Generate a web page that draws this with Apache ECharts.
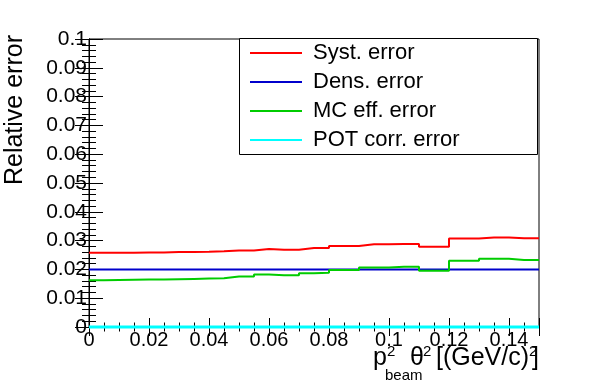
<!DOCTYPE html>
<html>
<head>
<meta charset="utf-8">
<script src="https://cdn.jsdelivr.net/npm/echarts@6/dist/echarts.min.js"></script>
<style>
  html, body { margin: 0; padding: 0; background: #fff; }
  #chart { width: 598px; height: 386px; }
</style>
</head>
<body>
<div id="chart"></div>
<script>
// lower bin edges (bin width 0.005) and upper end of last bin
const binLow = [0, 0.005, 0.01, 0.015, 0.02, 0.025, 0.03, 0.035, 0.04, 0.045,
                0.05, 0.055, 0.06, 0.065, 0.07, 0.075, 0.08, 0.085, 0.09, 0.095,
                0.1, 0.105, 0.11, 0.115, 0.12, 0.125, 0.13, 0.135, 0.14, 0.145];
const xMax = 0.15;

const systErr = [0.0258, 0.0258, 0.0258, 0.0259, 0.0259, 0.0260, 0.0260, 0.0261, 0.0263, 0.0266,
                 0.0266, 0.0271, 0.0268, 0.0268, 0.0274, 0.0274, 0.0281, 0.0281, 0.0287, 0.0287,
                 0.0288, 0.0288, 0.0279, 0.0279, 0.0307, 0.0307, 0.0311, 0.0311, 0.0308, 0.0308];
const densErr = [0.02, 0.02, 0.02, 0.02, 0.02, 0.02, 0.02, 0.02, 0.02, 0.02,
                 0.02, 0.02, 0.02, 0.02, 0.02, 0.02, 0.02, 0.02, 0.02, 0.02,
                 0.02, 0.02, 0.02, 0.02, 0.02, 0.02, 0.02, 0.02, 0.02, 0.02];
const mcEffErr = [0.0162, 0.0163, 0.0164, 0.0165, 0.0165, 0.0166, 0.0167, 0.0168, 0.0169, 0.0175,
                  0.0175, 0.0182, 0.0180, 0.0180, 0.0187, 0.0188, 0.0198, 0.0198, 0.0207, 0.0207,
                  0.0209, 0.0209, 0.0195, 0.0195, 0.0230, 0.0230, 0.0237, 0.0237, 0.0233, 0.0233];
const potCorrErr = [0, 0, 0, 0, 0, 0, 0, 0, 0, 0, 0, 0, 0, 0, 0,
                    0, 0, 0, 0, 0, 0, 0, 0, 0, 0, 0, 0, 0, 0, 0];

const names = ['Syst. error', 'Dens. error', 'MC eff. error', 'POT corr. error'];
const colors = ['#ff0000', '#0000cc', '#00cc00', '#00ffff'];

function histData(vals) {
  const d = binLow.map((x, i) => [x, vals[i]]);
  d.push([xMax, vals[vals.length - 1]]);
  return d;
}

const FONT = 'Liberation Sans';
const chart = echarts.init(document.getElementById('chart'));

const xCommon = {
  type: 'value', min: 0, max: 0.15, interval: 0.02,
  axisLine: { lineStyle: { color: '#000', width: 1 } },
  axisTick: { inside: true, length: 9, lineStyle: { color: '#000' } },
  minorTick: { show: true, splitNumber: 4, length: 4.5, lineStyle: { color: '#000' } },
  splitLine: { show: false }
};
const yCommon = {
  type: 'value', min: 0, max: 0.1, interval: 0.01,
  axisLine: { lineStyle: { color: '#000', width: 1 } },
  axisTick: { inside: true, length: 14, lineStyle: { color: '#000' } },
  minorTick: { show: true, splitNumber: 5, length: 7, lineStyle: { color: '#000' } },
  splitLine: { show: false }
};

const series = [systErr, densErr, mcEffErr, potCorrErr].map((vals, i) => ({
  name: names[i],
  type: 'line',
  step: 'end',
  data: histData(vals),
  showSymbol: false,
  symbol: 'none',
  clip: false,
  color: colors[i],
  lineStyle: { color: colors[i], width: i === 3 ? 3 : 2 },
  itemStyle: { color: colors[i] },
  z: 10,
  animation: false
}));

const T = '25px ' + FONT;
const S = '15px ' + FONT;

chart.setOption({
  animation: false,
  backgroundColor: '#fff',
  grid: { left: 89, right: 59, top: 39, bottom: 59, show: true, borderColor: '#000', borderWidth: 1, backgroundColor: 'transparent' },
  xAxis: [
    Object.assign({}, xCommon, {
      position: 'bottom',
      axisLabel: { fontFamily: FONT, fontSize: 20, color: '#000', margin: 3, showMinLabel: true,
                   formatter: v => String(+v.toFixed(3)) }
    }),
    Object.assign({}, xCommon, { position: 'top', axisLabel: { show: false } })
  ],
  yAxis: [
    Object.assign({}, yCommon, {
      position: 'left',
      axisLabel: { fontFamily: FONT, fontSize: 21, color: '#000', margin: 2,
                   formatter: v => String(+v.toFixed(3)) }
    }),
    Object.assign({}, yCommon, { position: 'right', axisLabel: { show: false } })
  ],
  legend: {
    orient: 'vertical', left: 250, top: 42, padding: 0, itemGap: 7,
    icon: 'rect', itemWidth: 52, itemHeight: 2,
    textStyle: { fontFamily: FONT, fontSize: 22, color: '#000', padding: [0, 0, 0, 6] },
    data: names, z: 20, selectedMode: false
  },
  graphic: [
    { type: 'rect', z: 15, shape: { x: 239.5, y: 38.5, width: 298, height: 116 },
      style: { fill: '#fff', stroke: '#000', lineWidth: 1 } },
    { type: 'text', x: 15, y: 35, rotation: Math.PI / 2,
      style: { text: 'Relative error', font: '25px ' + FONT, fill: '#000', align: 'right', verticalAlign: 'middle' } },
    { type: 'text', x: 373, y: 358,
      style: { text: 'p', font: T, fill: '#000', align: 'left', verticalAlign: 'middle' } },
    { type: 'text', x: 387, y: 352,
      style: { text: '2', font: S, fill: '#000', align: 'left', verticalAlign: 'middle' } },
    { type: 'text', x: 385, y: 376,
      style: { text: 'beam', font: S, fill: '#000', align: 'left', verticalAlign: 'middle' } },
    { type: 'text', x: 410, y: 358,
      style: { text: 'θ', font: T, fill: '#000', align: 'left', verticalAlign: 'middle' } },
    { type: 'text', x: 423, y: 352,
      style: { text: '2', font: S, fill: '#000', align: 'left', verticalAlign: 'middle' } },
    { type: 'text', x: 529, y: 358,
      style: { text: '[(GeV/c)', font: T, fill: '#000', align: 'right', verticalAlign: 'middle' } },
    { type: 'text', x: 529, y: 352,
      style: { text: '2', font: S, fill: '#000', align: 'left', verticalAlign: 'middle' } },
    { type: 'text', x: 539, y: 358,
      style: { text: ']', font: T, fill: '#000', align: 'right', verticalAlign: 'middle' } }
  ],
  series: series
});
</script>
</body>
</html>
